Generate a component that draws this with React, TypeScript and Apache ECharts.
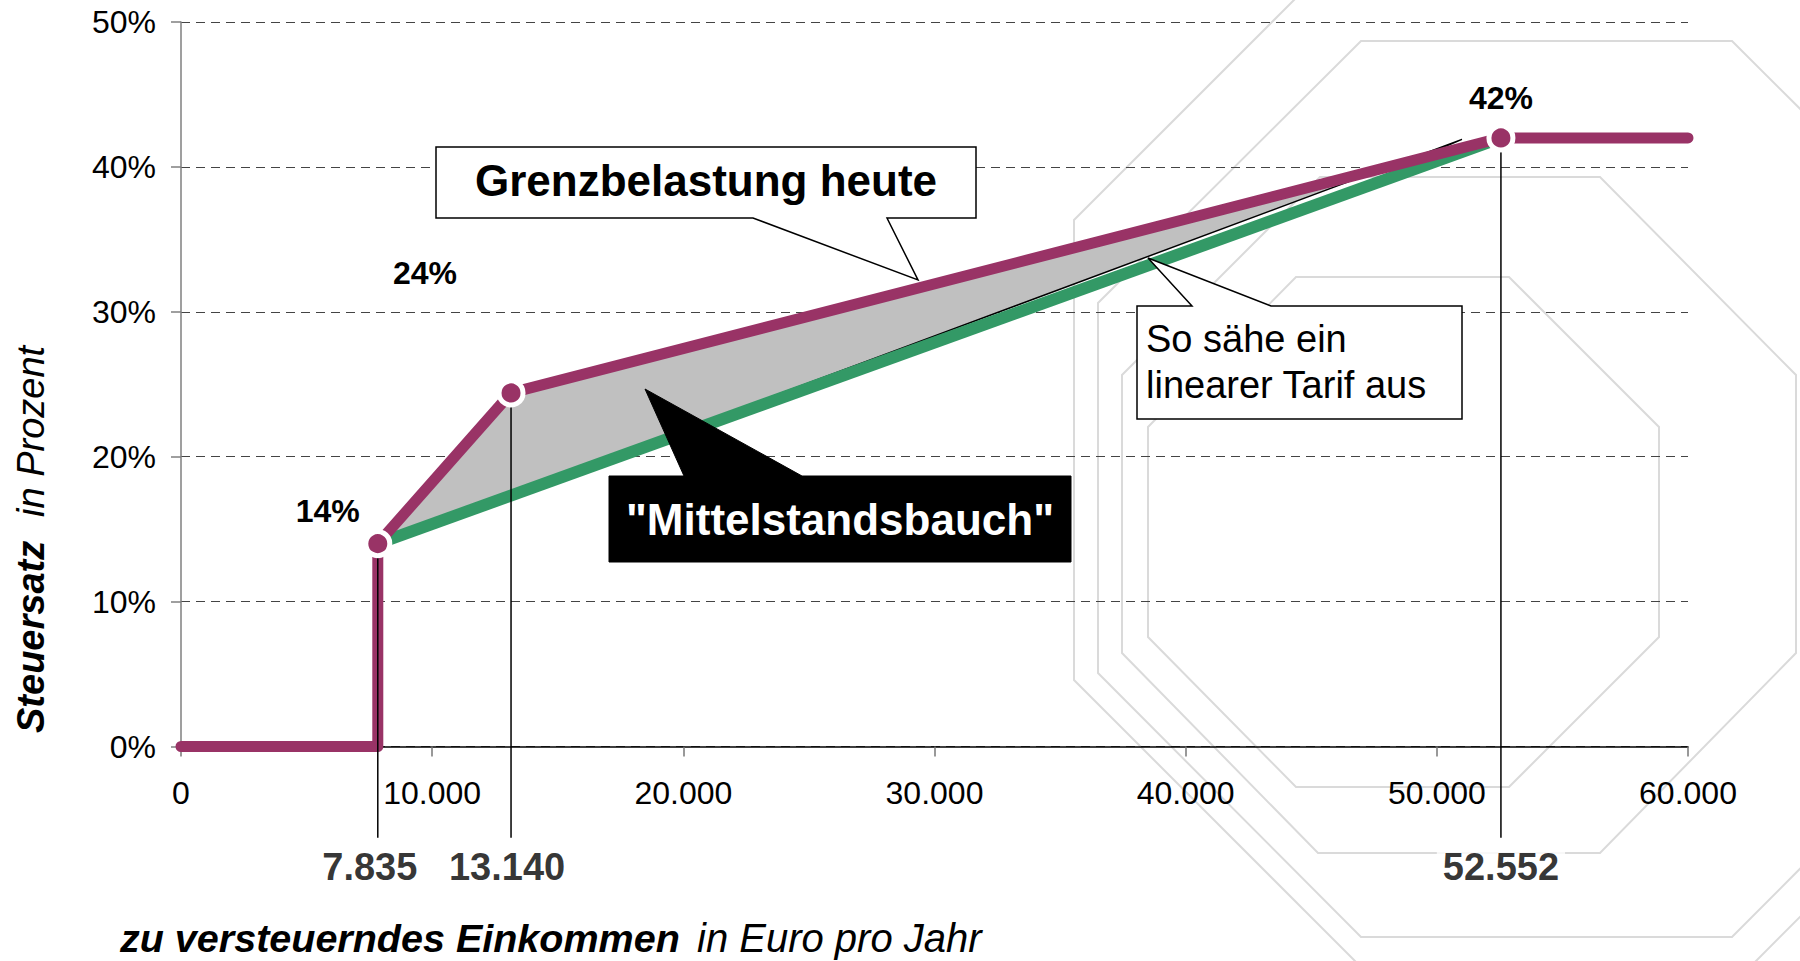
import React, { useEffect, useRef } from "react";
import * as echarts from "echarts";

// ---- data ----
const TARIFF_X = [0, 7835, 7835, 13140, 52552, 60000];
const TARIFF_Y = [0, 0, 14, 24.4, 42, 42];
const LINEAR_X = [7835, 52552];
const LINEAR_Y = [14, 42];
const BAUCH_X = [7835, 13140, 49000, 51000];
const BAUCH_Y = [14, 24.4, 40.4, 41.9];
const KINK_X = [7835, 13140, 52552];
const KINK_Y = [14, 24.4, 42];
const X_MIN = 0;
const X_MAX = 60000;
const X_STEP = 10000;
const Y_MIN = 0;
const Y_MAX = 50;
const Y_STEP = 10;

const FONT = "'Liberation Sans', Arial, sans-serif";
const PURPLE = "#993366";
const GREEN = "#339966";

// layout constants (not data)
const DROP_BOTTOM = -6.3;
const KINK_LABEL_OFFSETS = [[-50, -33], [-86, -120], [0, -40]];
const DROP_LABEL_OFFSETS = [[-8, 0], [-4, 0], [0, 0]];

const fmtDE = (v: number) => String(v).replace(/\B(?=(\d{3})+(?!\d))/g, ".");

function octagon(pts: number[][]) {
  return {
    type: "polygon",
    z: -1,
    silent: true,
    shape: { points: pts },
    style: { fill: "transparent", stroke: "#dadada", lineWidth: 2 },
  };
}

export default function App() {
  const ref = useRef<HTMLDivElement>(null);
  useEffect(() => {
    document.body.style.margin = "0";
    const chart = echarts.init(ref.current!, null, { renderer: "svg" });

    const tariffData = TARIFF_X.map((x, i) => [x, TARIFF_Y[i]]);
    const linearData = LINEAR_X.map((x, i) => [x, LINEAR_Y[i]]);

    const dropSeries = KINK_X.map((x, i) => ({
      type: "line",
      z: 5,
      silent: true,
      clip: false,
      symbol: "none",
      lineStyle: { color: "#000", width: 1.5 },
      data: [[x, KINK_Y[i]], [x, DROP_BOTTOM]],
    }));

    const option: any = {
      animation: false,
      backgroundColor: "#ffffff",
      grid: { left: 181, right: 112, top: 22, bottom: 214.5, containLabel: false },
      xAxis: {
        type: "value",
        min: X_MIN,
        max: X_MAX,
        interval: X_STEP,
        axisLine: { show: true, lineStyle: { color: "#000", width: 1.5 } },
        axisTick: { show: true, length: 10, inside: false, lineStyle: { color: "#777", width: 1.5 } },
        splitLine: { show: false },
        axisLabel: {
          color: "#000",
          fontSize: 32,
          fontFamily: FONT,
          margin: 30,
          formatter: (v: number) => fmtDE(v),
        },
      },
      yAxis: {
        type: "value",
        min: Y_MIN,
        max: Y_MAX,
        interval: Y_STEP,
        axisLine: { show: true, lineStyle: { color: "#7f7f7f", width: 1.5 } },
        axisTick: { show: true, length: 10, inside: false, lineStyle: { color: "#7f7f7f", width: 1.5 } },
        splitLine: { show: true, lineStyle: { color: "#444", width: 1, type: [9, 6] } },
        axisLabel: {
          color: "#000",
          fontSize: 32,
          fontFamily: FONT,
          margin: 25,
          formatter: (v: number) => v + "%",
        },
      },
      series: [
        {
          type: "custom",
          name: "Mittelstandsbauch",
          z: 2,
          silent: true,
          clip: false,
          data: [[BAUCH_X[0], BAUCH_Y[0]]],
          renderItem: (params: any, api: any) => {
            const pts = BAUCH_X.map((x, i) => api.coord([x, BAUCH_Y[i]]));
            return {
              type: "polygon",
              shape: { points: pts },
              style: { fill: "#c0c0c0", stroke: "#000", lineWidth: 1.5 },
            };
          },
        },
        {
          type: "line",
          name: "linear",
          z: 3,
          silent: true,
          symbol: "none",
          lineStyle: { color: GREEN, width: 12, cap: "butt" },
          data: linearData,
        },
        {
          type: "line",
          name: "heute",
          z: 4,
          silent: true,
          symbol: "none",
          lineStyle: { color: PURPLE, width: 11, cap: "round", join: "round" },
          data: tariffData,
        },
        ...dropSeries,
        {
          type: "scatter",
          name: "kinks",
          z: 6,
          silent: true,
          clip: false,
          symbol: "circle",
          symbolSize: 24,
          itemStyle: { color: PURPLE, borderColor: "#fff", borderWidth: 5, opacity: 1 },
          label: {
            show: true,
            position: "inside",
            fontSize: 32,
            fontWeight: "bold",
            fontFamily: FONT,
            color: "#000",
            formatter: (p: any) => Math.round(p.value[1]) + "%",
          },
          data: KINK_X.map((x, i) => ({
            value: [x, KINK_Y[i]],
            label: { offset: KINK_LABEL_OFFSETS[i] },
          })),
        },
        {
          type: "scatter",
          name: "dropLabels",
          z: 7,
          silent: true,
          clip: false,
          symbol: "circle",
          symbolSize: 1,
          itemStyle: { color: "rgba(0,0,0,0)" },
          label: {
            show: true,
            position: "bottom",
            distance: 8,
            fontSize: 38,
            fontWeight: "bold",
            fontFamily: FONT,
            color: "#000",
            backgroundColor: "#fff",
            padding: [2, 6],
            formatter: (p: any) => fmtDE(p.value[0]),
          },
          data: KINK_X.map((x, i) => ({
            value: [x, DROP_BOTTOM],
            label: { offset: DROP_LABEL_OFFSETS[i] },
          })),
        },
      ],
      graphic: {
        elements: [
          octagon([[1296, 277], [1509, 277], [1659, 427], [1659, 637], [1509, 787], [1296, 787], [1148, 637], [1148, 427]]),
          octagon([[1320, 177], [1600, 177], [1796, 375], [1796, 653], [1600, 853], [1318, 853], [1122, 653], [1122, 375]]),
          octagon([[1361, 41], [1732, 41], [1995, 303], [1995, 673], [1732, 937], [1361, 937], [1098, 673], [1098, 303]]),
          octagon([[1356, -62], [1755, -62], [2036, 220], [2036, 680], [1755, 962], [1356, 962], [1074, 680], [1074, 220]]),
          {
            type: "polygon",
            z: 20,
            silent: true,
            shape: {
              points: [[436, 147], [976, 147], [976, 218], [887, 218], [918, 280], [753, 218], [436, 218]],
            },
            style: { fill: "#fff", stroke: "#000", lineWidth: 1.5 },
          },
          {
            type: "text",
            z: 21,
            silent: true,
            x: 706,
            y: 180,
            style: {
              text: "Grenzbelastung heute",
              fontSize: 44,
              fontWeight: "bold",
              fontFamily: FONT,
              fill: "#000",
              align: "center",
              verticalAlign: "middle",
            },
          },
          {
            type: "polygon",
            z: 20,
            silent: true,
            shape: {
              points: [[609, 476], [684, 476], [645, 389], [802, 476], [1071, 476], [1071, 562], [609, 562]],
            },
            style: { fill: "#000", stroke: "#000", lineWidth: 1 },
          },
          {
            type: "text",
            z: 21,
            silent: true,
            x: 840,
            y: 519,
            style: {
              text: '"Mittelstandsbauch"',
              fontSize: 44,
              fontWeight: "bold",
              fontFamily: FONT,
              fill: "#fff",
              align: "center",
              verticalAlign: "middle",
            },
          },
          {
            type: "polygon",
            z: 20,
            silent: true,
            shape: {
              points: [[1137, 306], [1192, 306], [1148, 258], [1271, 306], [1462, 306], [1462, 419], [1137, 419]],
            },
            style: { fill: "#fff", stroke: "#000", lineWidth: 1.5 },
          },
          {
            type: "text",
            z: 21,
            silent: true,
            x: 1146,
            y: 362,
            style: {
              text: "So sähe ein\nlinearer Tarif aus",
              fontSize: 38,
              lineHeight: 46,
              fontFamily: FONT,
              fill: "#000",
              align: "left",
              verticalAlign: "middle",
            },
          },
          {
            type: "text",
            z: 21,
            silent: true,
            x: 120,
            y: 938,
            style: {
              text: "zu versteuerndes Einkommen",
              fontSize: 39.5,
              fontWeight: "bold",
              fontStyle: "italic",
              fontFamily: FONT,
              fill: "#000",
              align: "left",
              verticalAlign: "middle",
            },
          },
          {
            type: "text",
            z: 21,
            silent: true,
            x: 697,
            y: 938,
            style: {
              text: "in Euro pro Jahr",
              fontSize: 40,
              fontStyle: "italic",
              fontFamily: FONT,
              fill: "#000",
              align: "left",
              verticalAlign: "middle",
            },
          },
          {
            type: "text",
            z: 21,
            silent: true,
            x: 31,
            y: 733,
            rotation: Math.PI / 2,
            style: {
              text: "Steuersatz",
              fontSize: 38,
              fontWeight: "bold",
              fontStyle: "italic",
              fontFamily: FONT,
              fill: "#000",
              align: "left",
              verticalAlign: "middle",
            },
          },
          {
            type: "text",
            z: 21,
            silent: true,
            x: 31,
            y: 517,
            rotation: Math.PI / 2,
            style: {
              text: "in Prozent",
              fontSize: 38,
              fontStyle: "italic",
              fontFamily: FONT,
              fill: "#000",
              align: "left",
              verticalAlign: "middle",
            },
          },
        ],
      },
    };

    chart.setOption(option);
    return () => chart.dispose();
  }, []);

  return <div ref={ref} style={{ width: 1800, height: 961 }} />;
}
